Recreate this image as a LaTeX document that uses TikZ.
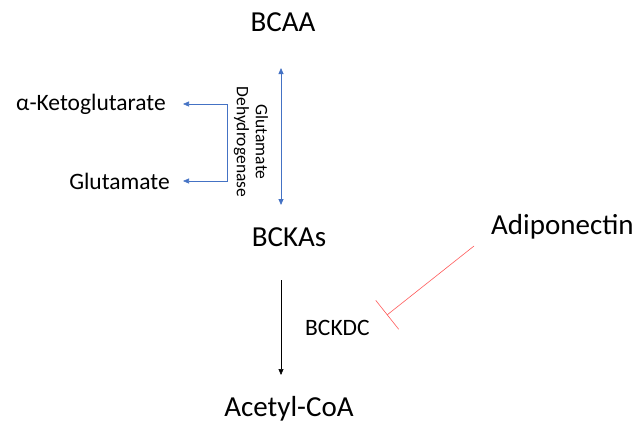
\documentclass[tikz,border=0pt]{standalone}
\usepackage{fontspec}
\setmainfont{Carlito}
\usetikzlibrary{arrows.meta}
\definecolor{pathblue}{RGB}{68,114,196}
\definecolor{inhibred}{RGB}{255,90,90}

\begin{document}
\begin{tikzpicture}[x=1pt,y=-1pt,
    big/.style={font=\fontsize{29}{33}\selectfont, inner sep=0pt},
    mid/.style={font=\fontsize{23.5}{27}\selectfont, inner sep=0pt},
    enz/.style={font=\fontsize{17.5}{19}\selectfont, inner sep=0pt, align=center, rotate=-90},
    >={Triangle[length=6pt,width=5pt]}]
    \useasboundingbox (0,0) rectangle (634,423);

    % metabolites
    \node[big] (bcaa) at (283,22) {BCAA};
    \node[big] (bckas) at (289,237) {BCKAs};
    \node[big] (acoa) at (289,409) {Acetyl-CoA};
    \node[big, anchor=west] (adipo) at (491,227) {Adiponectin};
    \node[mid, anchor=east] (akg) at (166,104) {α-Ketoglutarate};
    \node[mid, anchor=east] (glu) at (170,181) {Glutamate};
    \node[mid, anchor=west] (bckdc) at (305,328) {BCKDC};
    \node[enz] (gdh) at (251,142) {Glutamate\\Dehydrogenase};

    \coordinate (top) at (281,68);
    \coordinate (bot) at (281,205);
    \coordinate (br) at (227,104);
    \coordinate (start) at (281,280);
    \coordinate (stop) at (281,375);
    \coordinate (inh) at (474,246);
    \coordinate (block) at (387,315);

    % transamination
    \draw[<->, pathblue, line width=0.8pt] (top) -- (bot);
    \draw[->, pathblue, line width=0.6pt] (br) -- ([xshift=17pt]akg.east);
    \draw[->, pathblue, line width=0.6pt] (br) |- ([xshift=13pt]glu.east |- 0,181);

    % decarboxylation
    \draw[->, black, line width=0.6pt] (start) -- (stop);

    % inhibition
    \draw[-{Bar[width=37pt]}, inhibred, line width=0.6pt] (inh) -- (block);
\end{tikzpicture}
\end{document}
